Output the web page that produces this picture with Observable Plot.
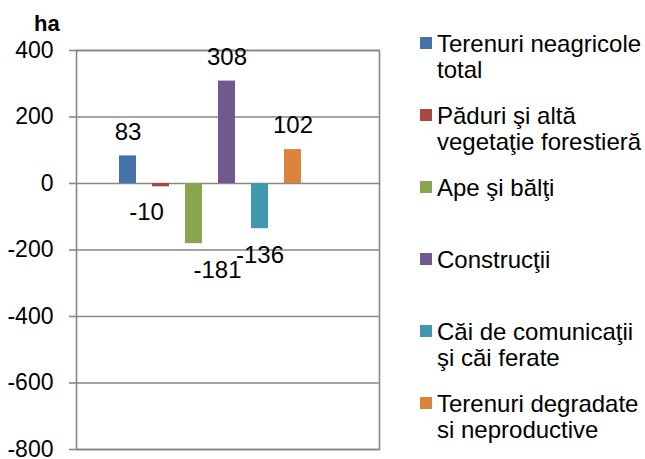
<!DOCTYPE html>
<html>
<head>
<meta charset="utf-8">
<script src="https://cdn.jsdelivr.net/npm/d3@7"></script>
<script src="https://cdn.jsdelivr.net/npm/@observablehq/plot@0.6"></script>
<style>
  html, body { margin: 0; padding: 0; background: #fff; }
  #wrap { position: relative; width: 645px; height: 459px; font-family: "Liberation Sans", Arial, sans-serif; color: #000; }
  #chart { position: absolute; left: 0; top: 0; }
  #chart svg { overflow: visible; }
  #unit { position: absolute; left: 34px; top: 13px; font-size: 22px; line-height: 22px; font-weight: bold; }
  .item { position: absolute; left: 420px; font-size: 24px; line-height: 26px; white-space: pre; }
  .sw { position: absolute; left: 0; top: 6px; width: 12px; height: 12px; }
  .lbl { position: absolute; left: 17px; top: 0; }
</style>
</head>
<body>
<div id="wrap">
  <div id="chart"></div>
  <div id="unit">ha</div>
</div>
<script>
const series = [
  "Terenuri neagricole\ntotal",
  "Păduri şi altă\nvegetaţie forestieră",
  "Ape şi bălţi",
  "Construcţii",
  "Căi de comunicaţii\nşi căi ferate",
  "Terenuri degradate\nsi neproductive"
];
const values = [83, -10, -181, 308, -136, 102];
const colors = ["#4572A7", "#AA4643", "#89A54E", "#71588F", "#4198AF", "#DB843D"];
const yTicks = [400, 200, 0, -200, -400, -600, -800];

const data = series.map((s, i) => ({name: s, value: values[i]}));
const gridColor = "#878787";

const chart = Plot.plot({
  width: 400,
  height: 459,
  marginTop: 50,
  marginBottom: 10,
  marginLeft: 76,
  marginRight: 21,
  style: {fontFamily: "'Liberation Sans', Arial, sans-serif", fontSize: "23px", color: "#000", background: "#fff", overflow: "visible"},
  x: {type: "band", domain: series, paddingInner: 0.5, paddingOuter: 1.745, align: 0.357, axis: null},
  y: {domain: [-800, 400], ticks: yTicks, axis: null},
  color: {domain: series, range: colors},
  marks: [
    Plot.ruleY(yTicks, {stroke: gridColor, strokeWidth: 1.6}),
    Plot.frame({stroke: gridColor, strokeWidth: 1.6}),
    Plot.axisY({ticks: yTicks, label: null, tickSize: 7, tickPadding: 16, stroke: gridColor, strokeWidth: 1.6, fill: "#000", fontSize: 23, tickFormat: d => String(d).replace("−", "-")}),
    Plot.barY(data, {x: "name", y: "value", fill: "name"}),
    Plot.text(data.filter((d, i) => d.value >= 0), {x: "name", y: "value", text: d => String(d.value), dy: -24, fontSize: 24, fill: "#000"}),
    Plot.text(data.filter((d, i) => d.value < 0 && i !== 1 && i !== 2), {x: "name", y: "value", text: d => String(d.value), dy: 27, fontSize: 24, fill: "#000"}),
    Plot.text(data.filter((d, i) => i === 1), {x: "name", y: "value", text: d => String(d.value), dy: 25, dx: -14.5, fontSize: 24, fill: "#000"}),
    Plot.text(data.filter((d, i) => i === 2), {x: "name", y: "value", text: d => String(d.value), dy: 27, dx: 23.5, fontSize: 24, fill: "#000"})
  ]
});
document.getElementById("chart").appendChild(chart);

// Legend built from the plot's color scale
const cs = chart.scale("color");
const wrap = document.getElementById("wrap");
cs.domain.forEach((name, i) => {
  const item = document.createElement("div");
  item.className = "item";
  item.style.top = (31 + 72 * i) + "px";
  const sw = document.createElement("div");
  sw.className = "sw";
  sw.style.background = cs.range[i];
  const lbl = document.createElement("div");
  lbl.className = "lbl";
  lbl.textContent = name;
  item.appendChild(sw);
  item.appendChild(lbl);
  wrap.appendChild(item);
});
</script>
</body>
</html>
